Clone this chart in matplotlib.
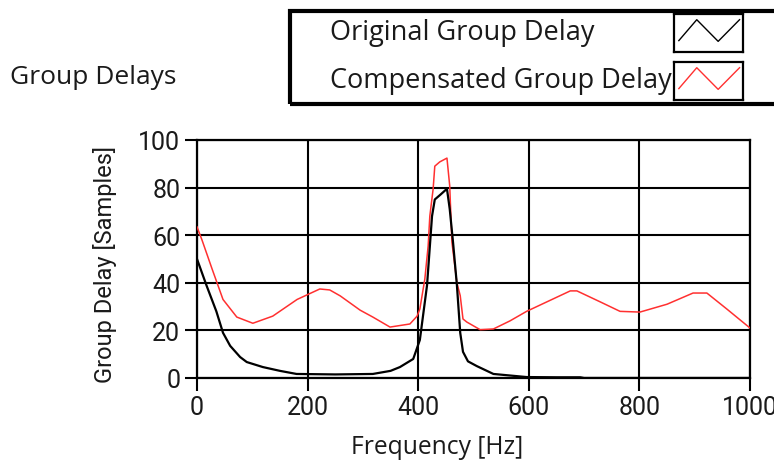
import numpy as np
import matplotlib
matplotlib.use("Agg")
import matplotlib.pyplot as plt
from matplotlib.patches import Rectangle

# data
freq_orig = [0, 17, 35, 47, 60, 78, 90, 119, 150, 180, 250, 318, 350, 367, 391, 403, 416,
             425, 430, 440, 452, 457, 463, 470, 476, 481, 490, 506, 536, 596, 650, 693, 700, 1000]
delay_orig = [50, 39, 28, 19, 13.5, 8.8, 6.7, 4.6, 3, 1.7, 1.5, 1.7, 3, 4.6, 8, 16, 39,
              68, 75, 77, 79.5, 71, 57, 39, 19, 11, 7, 5, 1.7, 0.4, 0.3, 0.3, 0, 0]

freq_comp = [0, 9, 27, 47, 72, 101, 137, 181, 222, 240, 259, 295, 318, 349, 385, 398, 403, 412,
             418, 421, 427, 430, 439, 452, 457, 461, 470, 476, 481, 488, 512, 536, 566, 596,
             675, 687, 729, 765, 801, 850, 897, 922, 958, 1000]
delay_comp = [63.5, 58, 46, 33, 25.6, 23, 26, 33, 37.4, 37, 34.5, 28.5, 25.6, 21.4, 22.7, 26, 29, 41.6,
              55.5, 68, 79.4, 89, 90.8, 92.4, 80.7, 57, 40, 34.6, 24.8, 23.5, 20.3, 20.6, 24, 28,
              36.6, 36.6, 32, 28, 27.7, 31, 35.7, 35.7, 29, 21]

x_ticks = [0, 200, 400, 600, 800, 1000]
y_ticks = [0, 20, 40, 60, 80, 100]
legend_labels = ["Original Group Delay", "Compensated Group Delay"]
legend_colors = ["black", "#ff3030"]

text_font = ["Open Sans", "DejaVu Sans"]
tick_font = ["Roboto", "DejaVu Sans"]
text_color = "#1a1a1a"

W, H = 774, 464
fig = plt.figure(figsize=(W / 100, H / 100), dpi=100)

ax = fig.add_axes([197 / W, 1 - 379 / H, 553 / W, 238 / H])
ax.plot(freq_comp, delay_comp, color=legend_colors[1], lw=1.1, zorder=3)
ax.plot(freq_orig, delay_orig, color=legend_colors[0], lw=1.6, zorder=4)

ax.set_xlim(0, 1000)
ax.set_ylim(0, 100)
ax.set_xticks(x_ticks)
ax.set_yticks(y_ticks)
ax.grid(True, color="black", lw=1.5)
ax.set_axisbelow(True)
for s in ax.spines.values():
    s.set_linewidth(1.6)
ax.tick_params(direction="out", length=9, width=1.5, pad=3)
for lab in ax.get_xticklabels() + ax.get_yticklabels():
    lab.set_family(tick_font)
    lab.set_fontsize(18)
    lab.set_color(text_color)

ax.set_xlabel("Frequency [Hz]", family=text_font, fontsize=17.7, color=text_color, va="center")
ax.xaxis.set_label_coords(0.434, -0.286)
ax.set_ylabel("Group Delay [Samples]", family=tick_font, fontsize=17, color=text_color, va="center")
ax.yaxis.set_label_coords(-0.166, 0.479)

fig.text(10 / W, 1 - 78 / H, "Group Delays", family=text_font, fontsize=19,
         color=text_color, va="center", ha="left")

# legend box
fig.patches.append(Rectangle((290 / W, 1 - 105 / H), 500 / W, 93 / H, transform=fig.transFigure,
                             fill=False, ec="black", lw=3, zorder=1))
zig_x = [0.07, 0.33, 0.64, 0.95]
zig_y = [0.30, 0.85, 0.28, 0.85]
for i, (lab, col) in enumerate(zip(legend_labels, legend_colors)):
    top = 15 + i * 48
    fig.text(330 / W, 1 - (top + 18) / H, lab, family=text_font, fontsize=19.5,
             color=text_color, va="center", ha="left")
    sw = fig.add_axes([674 / W, 1 - (top + 38) / H, 69 / W, 38 / H])
    sw.plot(zig_x, zig_y, color=col, lw=1.0)
    sw.set_xlim(0, 1)
    sw.set_ylim(0, 1)
    sw.set_xticks([])
    sw.set_yticks([])
    for s in sw.spines.values():
        s.set_linewidth(1.6)

fig.savefig("out.png", dpi=100)
